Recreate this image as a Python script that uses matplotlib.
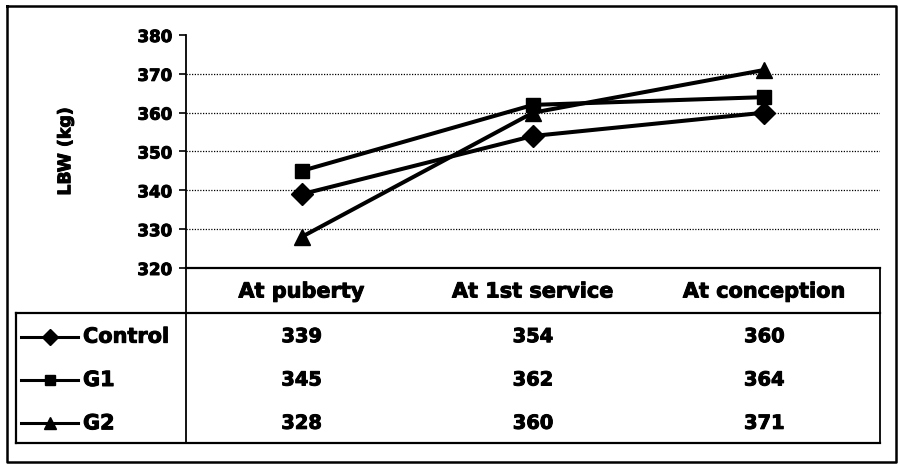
import matplotlib.pyplot as plt
import matplotlib.patheffects as pe
from matplotlib.lines import Line2D

stages = ["At puberty", "At 1st service", "At conception"]
groups = ["Control", "G1", "G2"]
control = [339, 354, 360]
g1 = [345, 362, 364]
g2 = [328, 360, 371]
markers = ["D", "s", "^"]
yticks = [320, 330, 340, 350, 360, 370, 380]

W, H = 899, 467
plt.rcParams["font.family"] = ["DejaVu Sans"]
plt.rcParams["font.weight"] = "bold"

# scanned text looks a touch heavier than plain bold
heavy = [pe.withStroke(linewidth=0.7, foreground="black")]

fig = plt.figure(figsize=(W / 100, H / 100), dpi=100)

# pixel-space overlay for the frame and data table
frame = fig.add_axes([0, 0, 1, 1])
frame.set_xlim(0, W)
frame.set_ylim(H, 0)
frame.axis("off")

# plot area (pixels)
x0, x1, ytop, ybot = 186, 880, 35, 268
ax = fig.add_axes([x0 / W, 1 - ybot / H, (x1 - x0) / W, (ybot - ytop) / H])

series = [control, g1, g2]
sizes = {"D": 11, "s": 10.5, "^": 11.5}
xs = range(len(stages))
for vals, m in zip(series, markers):
    ax.plot(xs, vals, color="black", lw=2.9, marker=m, ms=sizes[m], zorder=3)

ax.set_xlim(-0.5, len(stages) - 0.5)
ax.set_ylim(yticks[0], yticks[-1])
ax.set_yticks(yticks)
ax.set_xticks([])
for v in yticks[1:-1]:
    ax.axhline(v, color="black", lw=0.9, ls=(0, (1, 1.2)), zorder=1)
ax.spines["top"].set_visible(False)
ax.spines["right"].set_visible(False)
ax.spines["left"].set_linewidth(1.3)
ax.spines["bottom"].set_linewidth(1.6)
ax.tick_params(axis="y", length=5, width=1.2, labelsize=12, pad=5)
for lab in ax.get_yticklabels():
    lab.set_fontweight("bold")
    lab.set_path_effects(heavy)
ax.set_ylabel("LBW (kg)", fontsize=12.5, fontweight="bold", path_effects=heavy)
ax.yaxis.set_label_coords(-0.161, 0.5)

# outer border
frame.add_line(Line2D([7, 896, 896, 7, 7], [6, 6, 462, 462, 6], color="black", lw=1.8))

# data table
tl, tr, hdr_bot, tbot = 16, x1, 313, 443
frame.add_line(Line2D([tl, tr], [hdr_bot, hdr_bot], color="black", lw=1.6))
frame.add_line(Line2D([tl, tr], [tbot, tbot], color="black", lw=1.6))
frame.add_line(Line2D([tl, tl], [hdr_bot, tbot], color="black", lw=1.6))
frame.add_line(Line2D([x0, x0], [ybot, tbot], color="black", lw=1.3))
frame.add_line(Line2D([tr, tr], [ybot, tbot], color="black", lw=1.3))

col_w = (x1 - x0) / len(stages)
for i, s in enumerate(stages):
    frame.text(x0 + col_w * (i + 0.5), (ybot + hdr_bot) / 2 + 1, s,
               ha="center", va="center", fontsize=15, fontweight="bold",
               path_effects=heavy)

row_h = (tbot - hdr_bot) / len(groups)
for r, (name, vals, m) in enumerate(zip(groups, series, markers)):
    yc = hdr_bot + row_h * (r + 0.5) + 2
    frame.add_line(Line2D([21, 78], [yc, yc], color="black", lw=2.2))
    frame.plot([50], [yc], marker=m, color="black", ms=sizes[m] * 0.75)
    frame.text(83, yc, name, ha="left", va="center", fontsize=15, fontweight="bold",
               path_effects=heavy)
    for i, v in enumerate(vals):
        frame.text(x0 + col_w * (i + 0.5), yc, str(v), ha="center", va="center",
                   fontsize=14, fontweight="bold", path_effects=heavy)

fig.savefig("out.png", dpi=100)
plt.close(fig)
